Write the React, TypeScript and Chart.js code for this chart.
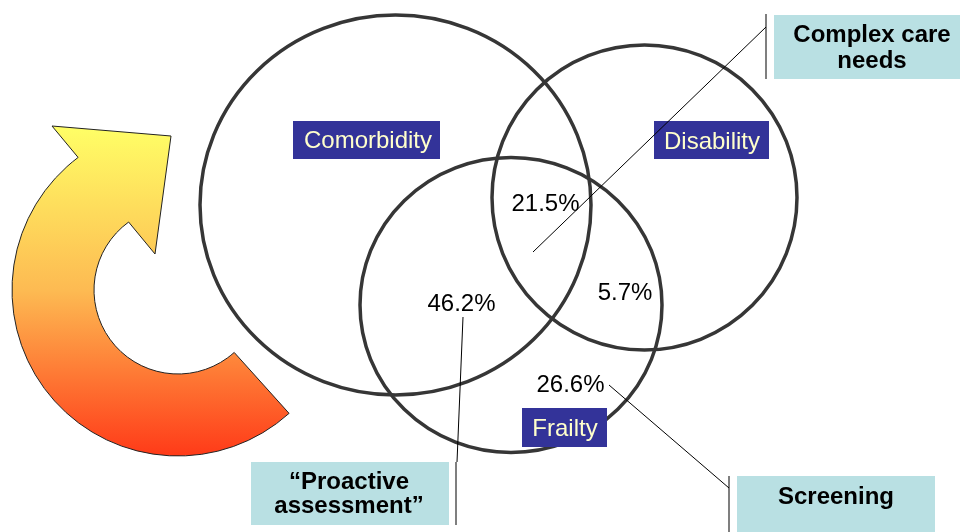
import React, { useEffect, useRef } from "react";
import { Chart, registerables } from "chart.js";

Chart.register(...registerables);

// ---- data ----
const setNames = ["Comorbidity", "Disability", "Frailty"];
const overlapLabels = ["21.5%", "5.7%", "46.2%", "26.6%"];
const overlapValues = [21.5, 5.7, 46.2, 26.6];
const calloutLines = [["Complex care", "needs"], ["\u201cProactive", "assessment\u201d"], ["Screening"]];

// ---- layout (data units map 1:1 onto the 960x532 canvas) ----
const CIRCLES = [
  { cx: 395.5, cy: 205, rx: 195.5, ry: 190 },
  { cx: 644.5, cy: 197.5, rx: 152.5, ry: 152.5 },
  { cx: 511, cy: 305, rx: 151, ry: 147.5 },
];
const SET_BOXES = [
  { x0: 293, y0: 121, x1: 440, y1: 159, tx: 368, ty: 148 },
  { x0: 654, y0: 121, x1: 769, y1: 159, tx: 712, ty: 149 },
  { x0: 522, y0: 408, x1: 607, y1: 447, tx: 565, ty: 436 },
];
const VALUE_POS = [
  { x: 545.5, y: 210.5 },
  { x: 625, y: 300 },
  { x: 461.5, y: 311 },
  { x: 570.5, y: 392 },
];
const CALLOUT_BOXES = [
  { x0: 774, y0: 15, x1: 962, y1: 79, tx: 872, ty: [42, 68], bar: { x: 766, y0: 14, y1: 79 } },
  { x0: 251, y0: 462, x1: 449, y1: 525, tx: 349, ty: [489, 513], bar: { x: 456, y0: 462, y1: 525 } },
  { x0: 737, y0: 476, x1: 935, y1: 534, tx: 836, ty: [504], bar: { x: 729, y0: 476, y1: 534 } },
];
const LEADERS = [
  [{ x: 533, y: 252 }, { x: 766, y: 27 }],
  [{ x: 463, y: 317 }, { x: 457, y: 462 }],
  [{ x: 609, y: 385 }, { x: 729, y: 488 }],
];
const ARROW = {
  cx: 178, cy: 290, ro: 166, ri: 84,
  startDeg: 48, outerEndDeg: 233, innerEndDeg: 234,
  outerWing: { x: 52, y: 126 }, tip: { x: 171, y: 136 }, innerWing: { x: 155, y: 254 },
};

const FONT = "'Liberation Sans', Arial, sans-serif";

const vennPlugin = {
  id: "venn",
  beforeDatasetsDraw(chart: any) {
    const { ctx, scales } = chart;
    const X = (v: number) => scales.x.getPixelForValue(v);
    const Y = (v: number) => scales.y.getPixelForValue(v);
    const RX = (r: number) => Math.abs(X(r) - X(0));
    const RY = (r: number) => Math.abs(Y(r) - Y(0));
    const rad = (d: number) => (d * Math.PI) / 180;

    // arrow
    ctx.save();
    const a = ARROW;
    const g = ctx.createLinearGradient(0, Y(a.outerWing.y), 0, Y(a.cy + a.ro));
    g.addColorStop(0, "#ffff66");
    g.addColorStop(0.5, "#fdba52");
    g.addColorStop(1, "#ff3a18");
    ctx.beginPath();
    ctx.ellipse(X(a.cx), Y(a.cy), RX(a.ro), RY(a.ro), 0, rad(a.startDeg), rad(a.outerEndDeg), false);
    ctx.lineTo(X(a.outerWing.x), Y(a.outerWing.y));
    ctx.lineTo(X(a.tip.x), Y(a.tip.y));
    ctx.lineTo(X(a.innerWing.x), Y(a.innerWing.y));
    ctx.ellipse(X(a.cx), Y(a.cy), RX(a.ri), RY(a.ri), 0, rad(a.innerEndDeg), rad(a.startDeg), true);
    ctx.closePath();
    ctx.fillStyle = g;
    ctx.fill();
    ctx.lineWidth = 1;
    ctx.strokeStyle = "#222";
    ctx.stroke();
    ctx.restore();

    // circles
    ctx.save();
    ctx.lineWidth = 3.5;
    ctx.strokeStyle = "#363636";
    CIRCLES.forEach((c) => {
      ctx.beginPath();
      ctx.ellipse(X(c.cx), Y(c.cy), RX(c.rx), RY(c.ry), 0, 0, Math.PI * 2);
      ctx.stroke();
    });
    ctx.restore();

    // set label boxes
    ctx.save();
    ctx.font = `24px ${FONT}`;
    ctx.textAlign = "center";
    ctx.textBaseline = "alphabetic";
    SET_BOXES.forEach((b, i) => {
      ctx.fillStyle = "#333399";
      ctx.fillRect(X(b.x0), Y(b.y0), X(b.x1) - X(b.x0), Y(b.y1) - Y(b.y0));
      ctx.fillStyle = "#ffffcc";
      ctx.fillText(setNames[i], X(b.tx), Y(b.ty));
    });
    // values
    ctx.fillStyle = "#000";
    overlapValues.forEach((v, i) => {
      ctx.fillText(overlapLabels[i] ?? `${v}%`, X(VALUE_POS[i].x), Y(VALUE_POS[i].y));
    });
    // callout boxes
    CALLOUT_BOXES.forEach((b, i) => {
      ctx.fillStyle = "#b9e0e3";
      ctx.fillRect(X(b.x0), Y(b.y0), X(b.x1) - X(b.x0), Y(b.y1) - Y(b.y0));
      ctx.fillStyle = "#000";
      ctx.font = `bold 24px ${FONT}`;
      calloutLines[i].forEach((line, j) => ctx.fillText(line, X(b.tx), Y(b.ty[j])));
      ctx.strokeStyle = "#555";
      ctx.lineWidth = 1.5;
      ctx.beginPath();
      ctx.moveTo(X(b.bar.x), Y(b.bar.y0));
      ctx.lineTo(X(b.bar.x), Y(b.bar.y1));
      ctx.stroke();
    });
    ctx.restore();
  },
};

export default function App() {
  const ref = useRef<HTMLCanvasElement>(null);
  useEffect(() => {
    document.body.style.margin = "0";
    const chart = new Chart(ref.current!, {
      type: "scatter",
      data: {
        datasets: LEADERS.map((pts) => ({
          data: pts,
          showLine: true,
          borderColor: "#000",
          borderWidth: 1,
          pointRadius: 0,
          fill: false,
        })),
      },
      options: {
        animation: false,
        responsive: false,
        maintainAspectRatio: false,
        layout: { padding: 0 },
        scales: {
          x: { type: "linear", min: 0, max: 960, display: false },
          y: { type: "linear", min: 0, max: 532, reverse: true, display: false },
        },
        plugins: { legend: { display: false }, tooltip: { enabled: false } },
      },
      plugins: [vennPlugin],
    });
    return () => chart.destroy();
  }, []);
  return (
    <div style={{ position: "absolute", left: 0, top: 0, width: 960, height: 532 }}>
      <canvas ref={ref} width={960} height={532} />
    </div>
  );
}
